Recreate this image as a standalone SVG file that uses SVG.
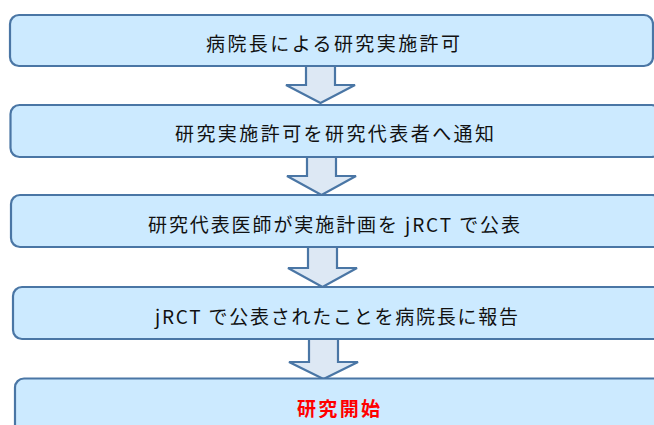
<svg xmlns="http://www.w3.org/2000/svg" width="654" height="425" viewBox="0 0 654 425">
<style>
.box{fill:#CCEAFF;stroke:#4A76A5;stroke-width:2.2}
.arr{fill:#DDE8F4;stroke:#4A76A5;stroke-width:2.2;stroke-linejoin:miter}
.t{font-family:"Noto Sans CJK JP","Noto Sans",sans-serif;font-size:19px;fill:#111;text-anchor:middle;dominant-baseline:central}
.r{fill:#FF0000;font-weight:bold}
</style>
<rect width="654" height="425" fill="#FFFFFF"/>
<g id="connectors">
<path class="arr" d="M306,66 V85 H286 L320.5,103 L355,85 H335 V66"/>
<path class="arr" d="M307,157 V176 H287 L321.5,195 L356,176 H336 V157"/>
<path class="arr" d="M308,247 V268 H288 L322.5,287 L357,268 H337 V247"/>
<path class="arr" d="M309,339 V362 H289 L323.5,379 L358,362 H338 V339"/>
</g>
<g id="n1"><rect class="box" x="10" y="15" width="643" height="51" rx="9"/><text class="t" x="333" y="42" textLength="254" lengthAdjust="spacing">病院長による研究実施許可</text></g>
<g id="n2"><rect class="box" x="10.5" y="105" width="650" height="52" rx="9"/><text class="t" x="334.5" y="132" textLength="319" lengthAdjust="spacing">研究実施許可を研究代表者へ通知</text></g>
<g id="n3"><rect class="box" x="11" y="195" width="650" height="52" rx="9"/><text class="t" x="334" y="223.5" textLength="372" lengthAdjust="spacing">研究代表医師が実施計画を jRCT で公表</text></g>
<g id="n4"><rect class="box" x="13" y="287" width="650" height="52" rx="9"/><text class="t" x="336.5" y="315" textLength="363" lengthAdjust="spacing">jRCT で公表されたことを病院長に報告</text></g>
<g id="n5"><rect class="box" x="15" y="378.5" width="650" height="60" rx="9"/><text class="t r" x="338.5" y="407" textLength="83" lengthAdjust="spacing">研究開始</text></g>
</svg>
